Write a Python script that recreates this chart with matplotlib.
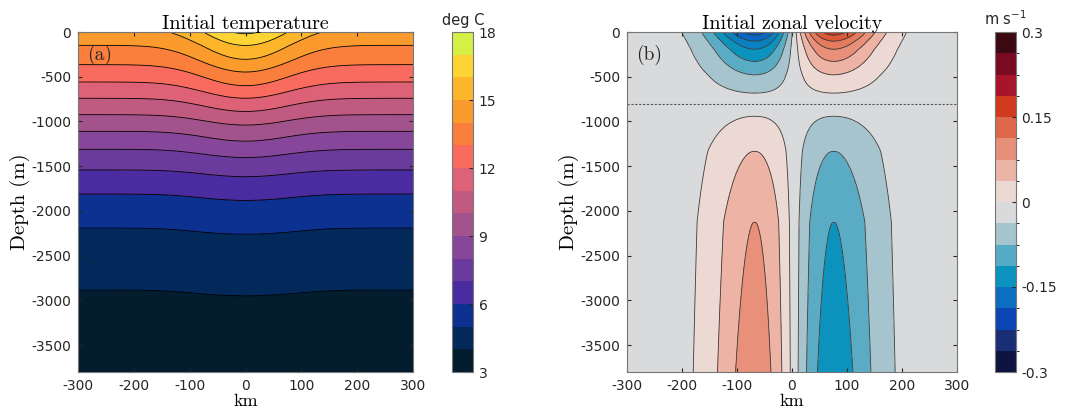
import numpy as np
import matplotlib
matplotlib.use("Agg")
from matplotlib import pyplot as plt
from matplotlib.colors import ListedColormap, BoundaryNorm
import matplotlib.cm as cm

plt.rcParams['axes.unicode_minus'] = False

# temperature: isotherm depths (m) read at the edge (x = +-300 km) and at the eddy centre
edge_depth = [0, 149, 365, 559, 741, 924, 1110, 1311, 1542, 1811, 2191, 2884, 3800]
edge_temp = [14.7, 14, 13, 12, 11, 10, 9, 8, 7, 6, 5, 4, 3.3]
centre_depth = [0, 150, 305, 447, 600, 740, 888, 1040, 1220, 1403, 1617, 1882, 2260, 2948, 3800]
centre_temp = [17.15, 16, 15, 14, 13, 12, 11, 10, 9, 8, 7, 6, 5, 4, 3.35]
eddy_width = 67.0  # km

temp_levels = np.arange(3, 19)
temp_colors = ['#031c2e', '#03285a', '#0c3190', '#4a2ca0', '#6a3b9c', '#86479a',
               '#a2538c', '#c15a80', '#dd6177', '#fa6b5f', '#fb7f3c', '#fb9a2d',
               '#fdb52b', '#fcd534', '#d5ef47']
temp_ticks = [3, 6, 9, 12, 15, 18]

# zonal velocity: amplitude (m/s) at the velocity core vs depth (m)
vel_depth = [0, 35, 100, 190, 328, 477, 682, 800, 940, 1330, 2120, 3800]
vel_amp = [0.18, 0.165, 0.135, 0.105, 0.075, 0.045, 0.015, 0.0, -0.015, -0.045, -0.075, -0.092]
vel_core = 72.0   # km
vel_shift = 4.0   # km

vel_levels = [-0.195, -0.165, -0.135, -0.105, -0.075, -0.045, -0.015,
              0.015, 0.045, 0.075, 0.105, 0.135, 0.165, 0.195]
vel_fill = ['#0a52ba', '#0a66c2', '#0a80c0', '#0b93bd', '#5aacc4', '#a5c4cd',
            '#d9dadb',
            '#ecd9d3', '#edb4a6', '#e8907a', '#e47a5e', '#dc5a3a', '#cc3a1e']
vel_cbar_colors = ['#0e1340', '#1a2e75', '#0c45b4', '#0a6fc0', '#0b93bd', '#55aac4',
                   '#a5c4cd', '#d9dadb', '#ecd9d3', '#ecb4a6', '#e68f79', '#e0684a',
                   '#d03a1f', '#a8142a', '#780b22', '#3c0912']
vel_ticks = [-0.3, -0.15, 0, 0.15, 0.3]
vel_ticklabels = ['-0.3', '-0.15', '0', '0.15', '0.3']

xticks = np.arange(-300, 301, 100)
yticks = np.arange(-3500, 1, 500)

x = np.linspace(-300, 300, 601)
z = np.linspace(-3800, 0, 761)
X, Z = np.meshgrid(x, z)

# temperature field
t_edge = np.interp(-z, edge_depth, edge_temp)
t_centre = np.interp(-z, centre_depth, centre_temp)
G = np.exp(-x ** 2 / (2 * eddy_width ** 2))
T = t_edge[:, None] + (t_centre - t_edge)[:, None] * G[None, :]

# velocity field
amp = np.interp(-z, vel_depth, vel_amp)
k = 9
amp = np.convolve(np.pad(amp, k // 2, mode='edge'), np.ones(k) / k, mode='valid')
r = (x - vel_shift) / vel_core
g = r * np.exp(0.5 * (1 - r ** 2))
U = amp[:, None] * g[None, :]

fig = plt.figure(figsize=(10.67, 4.12), dpi=100)
W, H = 1067.0, 412.0
ax1 = fig.add_axes([78 / W, 40 / H, 335 / W, 340 / H])
cax1 = fig.add_axes([452 / W, 40 / H, 21 / W, 340 / H])
ax2 = fig.add_axes([627 / W, 40 / H, 330 / W, 340 / H])
cax2 = fig.add_axes([995 / W, 40 / H, 21 / W, 340 / H])

serif = dict(family='cmr10')

cf = ax1.contourf(X, Z, T, levels=temp_levels, colors=temp_colors)
ax1.contour(X, Z, T, levels=temp_levels, colors='k', linewidths=0.6,
            linestyles='solid')
cb1 = fig.colorbar(cf, cax=cax1, ticks=temp_ticks)
cb1.set_ticklabels([str(t) for t in temp_ticks])

ax2.contourf(X, Z, U, levels=vel_levels, colors=vel_fill)
ax2.contour(X, Z, U, levels=vel_levels, colors='#3a3a3a', linewidths=0.6,
            linestyles='solid')
ax2.axhline(-800, color='#555555', lw=0.8, ls=(0, (2, 1.5)))
sm = cm.ScalarMappable(norm=BoundaryNorm(np.linspace(-0.3, 0.3, 17), 16),
                       cmap=ListedColormap(vel_cbar_colors))
cb2 = fig.colorbar(sm, cax=cax2, ticks=vel_ticks)
cb2.set_ticklabels(vel_ticklabels)

for ax, title, lab in [(ax1, 'Initial temperature', '(a)'),
                       (ax2, 'Initial zonal velocity', '(b)')]:
    ax.set_xlim(-300, 300)
    ax.set_ylim(-3800, 0)
    ax.set_xticks(xticks)
    ax.set_yticks(yticks)
    ax.tick_params(direction='in', length=3, top=True, right=True,
                   labelsize=10, colors='#262626', pad=5)
    for s in ax.spines.values():
        s.set_color('#777777')
        s.set_linewidth(0.8)
    ax.set_title(title, fontsize=14.5, pad=2, **serif)
    ax.set_xlabel('km', fontsize=13, **serif)
    ax.xaxis.set_label_coords(0.5, -0.063)
    ax.set_ylabel('Depth (m)', fontsize=15, labelpad=1, **serif)
    ax.text(0.027, 0.932, lab, transform=ax.transAxes, fontsize=14,
            ha='left', va='center', color='#262626', **serif)

for cax, cb in ((cax1, cb1), (cax2, cb2)):
    cax.tick_params(direction='in', length=3, labelsize=10, colors='#262626', pad=4)
    cb.outline.set_edgecolor('#777777')

fig.text(463 / W, 1 - 21 / H, 'deg C', fontsize=10.5, ha='center', va='center', color='#262626')
fig.text(1005 / W, 1 - 19 / H, 'm s$^{-1}$', fontsize=10.5, ha='center', va='center', color='#262626')

fig.savefig('out.png', dpi=100)
